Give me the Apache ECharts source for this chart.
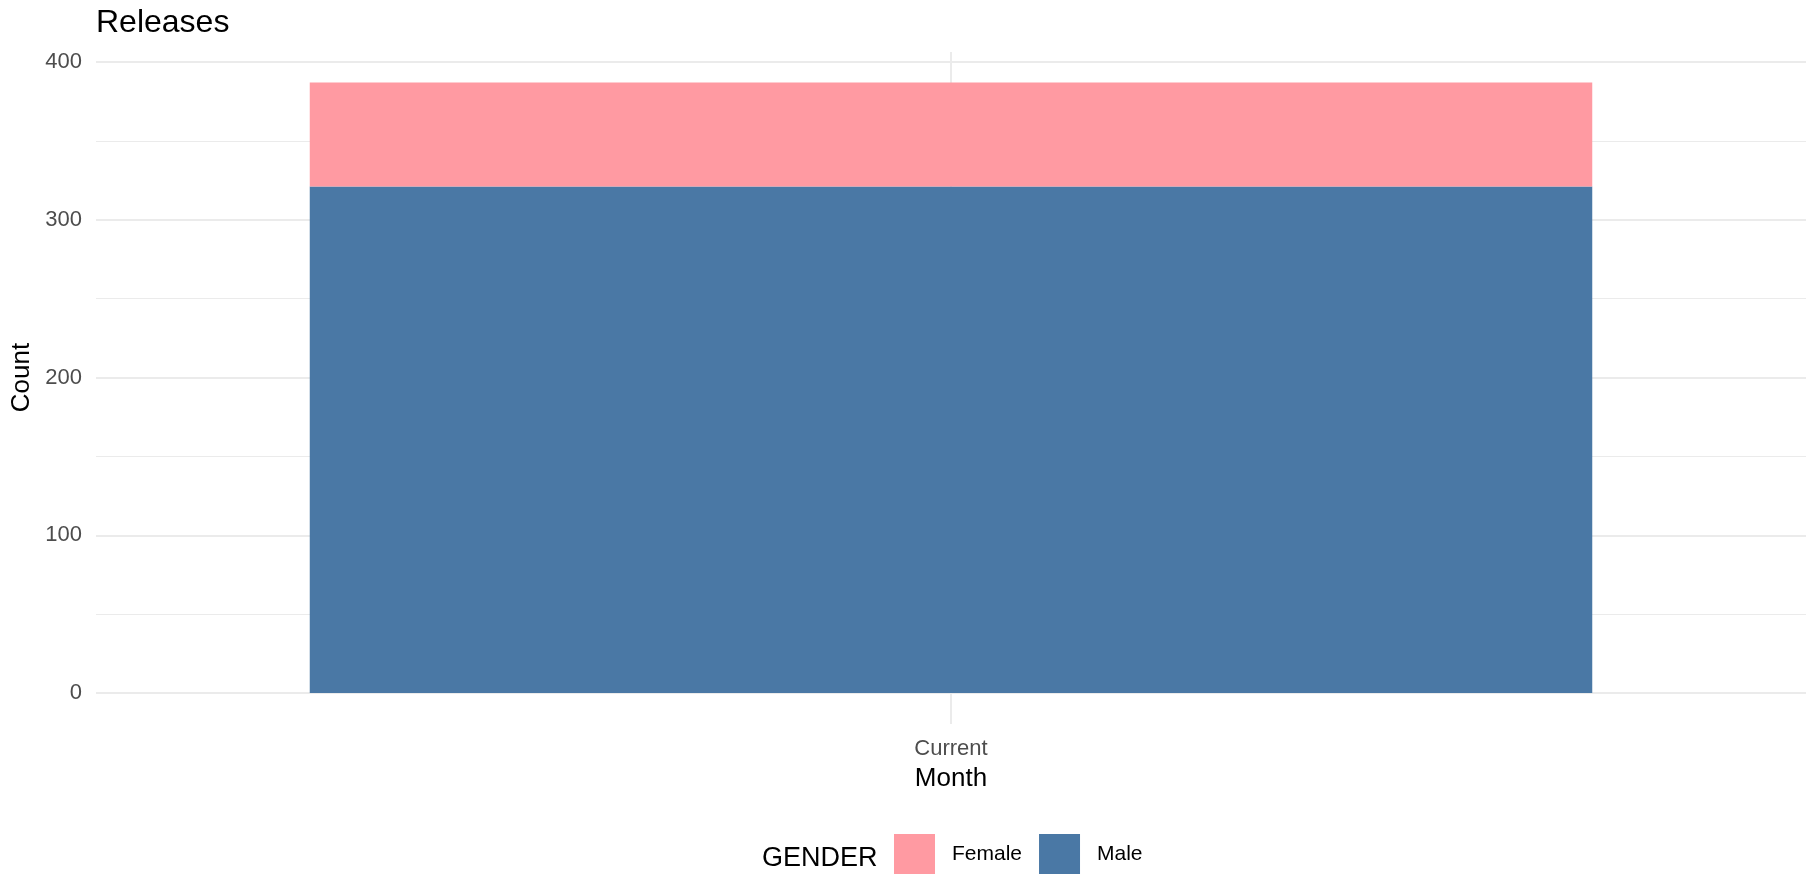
<!DOCTYPE html>
<html>
<head>
<meta charset="utf-8">
<script src="https://cdn.jsdelivr.net/npm/echarts@6/dist/echarts.min.js"></script>
<style>html,body{margin:0;padding:0;background:#fff}#c{width:1816px;height:875px}</style>
</head>
<body>
<div id="c"></div>
<script>
const categories = ['Current'];
const maleValues = [321];
const femaleValues = [66];
const seriesNames = ['Female', 'Male'];
const yTicks = { min: 0, max: 400, interval: 100 };

const FONT = '"Liberation Sans", Arial, sans-serif';
const chart = echarts.init(document.getElementById('c'), null, { renderer: 'canvas' });
const gridColor = '#ebebeb';

chart.setOption({
  backgroundColor: '#ffffff',
  animation: false,
  title: [
    { text: 'Releases', left: 96, top: 7, padding: 0,
      textStyle: { fontFamily: FONT, fontSize: 32, fontWeight: 'normal', color: '#000' } },
    { text: 'GENDER', left: 762, top: 845, padding: 0,
      textStyle: { fontFamily: FONT, fontSize: 27, fontWeight: 'normal', color: '#000' } }
  ],
  legend: {
    data: seriesNames,
    left: 894, top: 834,
    orient: 'horizontal',
    itemWidth: 41, itemHeight: 40, itemGap: 17,
    icon: 'rect',
    padding: 0,
    textStyle: { fontFamily: FONT, fontSize: 21, color: '#000', padding: [8, 0, 0, 12] }
  },
  grid: [
    { left: 96, right: 10, top: 62, bottom: 182, containLabel: false },
    { left: 96, right: 10, top: 52, bottom: 151, containLabel: false }
  ],
  xAxis: [
    { type: 'category', gridIndex: 0, data: categories,
      axisLine: { show: false }, axisTick: { show: false }, splitLine: { show: false },
      axisLabel: { margin: 45, fontFamily: FONT, fontSize: 22, color: '#4d4d4d' },
      name: 'Month', nameLocation: 'middle', nameGap: 73,
      nameTextStyle: { fontFamily: FONT, fontSize: 26, color: '#000' } },
    { type: 'category', gridIndex: 1, data: categories, boundaryGap: false,
      axisLine: { show: false }, axisTick: { show: false }, axisLabel: { show: false },
      splitLine: { show: true, lineStyle: { color: gridColor, width: 2 } } }
  ],
  yAxis: [
    { type: 'value', gridIndex: 0, min: yTicks.min, max: yTicks.max, interval: yTicks.interval,
      axisLine: { show: false }, axisTick: { show: false },
      axisLabel: { margin: 14, fontFamily: FONT, fontSize: 22, color: '#4d4d4d', padding: [10, 0, 0, 0] },
      splitLine: { show: true, lineStyle: { color: gridColor, width: 2 } },
      minorTick: { show: false, splitNumber: 2 },
      minorSplitLine: { show: true, lineStyle: { color: gridColor, width: 1 } },
      name: 'Count', nameLocation: 'middle', nameGap: 51, nameRotate: 90,
      nameTextStyle: { fontFamily: FONT, fontSize: 26, color: '#000' } },
    { type: 'value', gridIndex: 1, min: 0, max: 1, show: false,
      splitLine: { show: false } }
  ],
  series: [
    { name: 'Male', type: 'bar', stack: 'g', xAxisIndex: 0, yAxisIndex: 0,
      data: maleValues, barWidth: '75%', itemStyle: { color: '#4A78A5' } },
    { name: 'Female', type: 'bar', stack: 'g', xAxisIndex: 0, yAxisIndex: 0,
      data: femaleValues, barWidth: '75%', itemStyle: { color: '#FF9AA2' } }
  ]
});
</script>
</body>
</html>
